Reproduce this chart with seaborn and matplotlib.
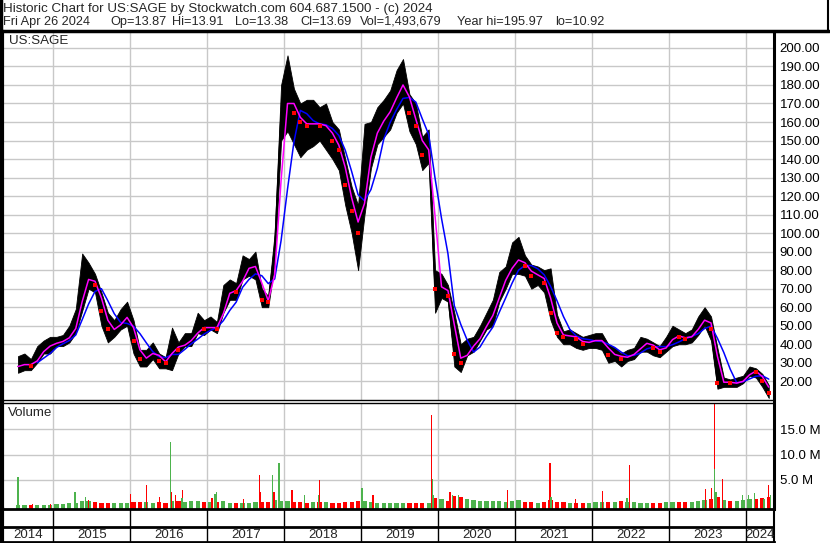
import matplotlib
matplotlib.use("Agg")
import matplotlib.pyplot as plt
from matplotlib.lines import Line2D
import numpy as np
import pandas as pd
import seaborn as sns

# monthly bars, Jul 2014 .. Apr 2024
months = pd.period_range("2014-07", "2024-04", freq="M")

price_low = [
    24.6, 26, 26, 30, 35, 35,
    39, 39, 41, 46, 58, 70, 68, 50, 41, 44, 48, 50,
    35, 28, 28, 32, 27, 27, 26, 35, 39, 39, 46, 45,
    48, 46, 57, 64, 64, 75, 77, 75, 60, 60, 84, 150,
    155, 148, 141, 145, 147, 150, 145, 140, 134, 115, 100, 80,
    110, 135, 148, 152, 156, 165, 170, 155, 148, 134, 138, 57,
    65, 63, 28, 25, 34, 36, 42, 48, 50, 63, 70, 78,
    78, 77, 70, 72, 68, 53, 44, 40, 40, 38, 37, 38,
    38, 37, 30, 31, 28, 31, 32, 36, 36, 34, 33, 36,
    39, 40, 40, 41, 45, 50, 42, 16, 17, 17, 17, 19,
    23, 22, 17, 11,
]
price_high = [
    33.6, 35, 32, 39, 42, 44,
    44, 45, 50, 59, 89, 84, 78, 68, 57, 53, 59, 63,
    53, 37, 37, 41, 35, 33, 49, 41, 46, 46, 57, 53,
    55, 52, 72, 75, 73, 88, 86, 90, 70, 66, 100, 180,
    196, 178, 170, 172, 172, 168, 170, 160, 156, 140, 125, 115,
    159, 160, 168, 172, 177, 188, 194, 175, 170, 152, 156, 80,
    78, 72, 57, 40, 43, 44, 50, 57, 64, 79, 82, 95,
    98, 88, 83, 82, 80, 81, 56, 47, 48, 46, 44, 45,
    46, 46, 40, 38, 35, 37, 38, 44, 43, 41, 39, 44,
    50, 48, 46, 48, 55, 60, 55, 38, 22, 21, 22, 23,
    28, 27, 24, 18,
]
price_close = [
    28, 30, 28, 34, 38, 40,
    41, 42, 45, 52, 74, 76, 72, 58, 48, 48, 53, 56,
    42, 32, 33, 37, 31, 30, 40, 37, 42, 42, 50, 48,
    50, 48, 65, 70, 68, 80, 82, 82, 64, 63, 92, 165,
    175, 165, 160, 158, 160, 158, 158, 150, 145, 126, 112, 100,
    132, 150, 158, 163, 168, 178, 182, 165, 158, 142, 148, 70,
    72, 66, 35, 30, 38, 40, 46, 53, 58, 72, 77, 85,
    86, 82, 77, 78, 73, 57, 46, 44, 45, 43, 40, 42,
    42, 42, 34, 35, 32, 34, 35, 40, 41, 38, 36, 40,
    45, 44, 43, 45, 51, 55, 48, 19, 20, 19, 19, 21,
    26, 25, 20, 13.69,
]
# typical daily volume per month, millions
volume_base = [
    0.1, 0.05, 0.05, 0.1, 0.05, 0.1,
    0.2, 0.3, 0.4, 0.5, 0.8, 0.9, 0.6, 0.5, 0.4, 0.4, 0.5, 0.4,
    0.6, 0.7, 0.6, 0.5, 0.6, 0.5, 0.9, 0.8, 0.7, 0.8, 0.9, 0.6,
    0.6, 0.7, 0.8, 0.5, 0.4, 0.5, 0.4, 0.6, 0.6, 0.7, 1.0, 0.9,
    0.8, 0.6, 0.6, 0.5, 0.6, 0.7, 0.6, 0.5, 0.5, 0.6, 0.7, 0.8,
    0.8, 0.6, 0.5, 0.5, 0.5, 0.5, 0.5, 0.4, 0.4, 0.4, 0.5, 1.5,
    1.2, 0.8, 1.8, 1.6, 1.3, 1.1, 0.9, 0.8, 0.9, 0.8, 0.7, 0.8,
    1.0, 0.7, 0.6, 0.5, 0.6, 1.0, 0.7, 0.6, 0.5, 0.5, 0.5, 0.5,
    0.6, 0.6, 0.7, 0.6, 0.8, 0.6, 0.6, 0.5, 0.5, 0.5, 0.5, 0.6,
    0.6, 0.6, 0.6, 0.6, 0.8, 1.0, 1.2, 1.6, 1.0, 0.9, 0.9, 1.0,
    1.3, 1.2, 1.4, 1.6,
]

# single heavy-volume days (decimal year, millions, up day?)
spike_dates = [
    2014.54, 2014.73, 2014.96, 2015.28, 2015.42, 2015.46, 2016.005, 2016.21,
    2016.38, 2016.52, 2016.535, 2016.59, 2016.68, 2016.67, 2017.06, 2017.12,
    2017.10, 2017.47, 2017.68, 2017.695, 2017.85, 2017.865, 2017.93, 2018.10,
    2018.26, 2018.44, 2018.46, 2019.01, 2019.15, 2019.91, 2019.925, 2019.94,
    2020.15, 2020.18, 2020.26, 2020.90, 2021.45, 2021.465, 2021.78, 2022.13,
    2022.48, 2022.45, 2023.47, 2023.55, 2023.59, 2023.59, 2023.605, 2023.69,
    2023.95, 2024.03, 2024.11, 2024.23, 2024.29, 2024.31,
]
spike_volume = [
    5.6, 0.3, 0.3, 2.7, 1.7, 1.0, 2.3, 4.0,
    1.6, 12.4, 2.7, 2.0, 3.0, 1.5, 1.5, 2.7,
    2.2, 1.2, 6.0, 2.6, 6.0, 2.7, 8.3, 3.1,
    2.0, 2.0, 5.0, 3.4, 2.0, 17.8, 5.2, 2.0,
    2.6, 2.0, 2.0, 3.0, 8.3, 1.7, 1.3, 2.9,
    7.9, 1.5, 3.2, 3.4, 21.0, 7.1, 2.6, 5.2,
    2.0, 2.0, 2.4, 1.3, 4.0, 2.0,
]
spike_up = [
    1, 0, 0, 1, 1, 0, 0, 0,
    0, 1, 0, 0, 0, 1, 0, 1,
    1, 0, 0, 0, 1, 0, 1, 0,
    1, 1, 0, 1, 0, 0, 1, 1,
    0, 1, 1, 0, 0, 1, 0, 0,
    0, 1, 0, 0, 0, 1, 1, 0,
    1, 1, 1, 1, 0, 1,
]

years = list(range(2014, 2025))
price_ticks = list(range(20, 201, 10))
volume_ticks = [5, 10, 15]

header_line1 = "Historic Chart for US:SAGE by Stockwatch.com 604.687.1500 - (c) 2024"
header_line2 = ["Fri Apr 26 2024", "Op=13.87", "Hi=13.91", "Lo=13.38",
                "Cl=13.69", "Vol=1,493,679", "Year hi=195.97", "lo=10.92"]
header_line2_x = [3, 110, 172, 235, 300, 360, 457, 555]

GREEN = "#4DB34D"
RED = "#FF0000"
GRID = "#C8C8C8"

sns.set_theme(style="white")
plt.rcParams["font.family"] = ["Liberation Sans", "DejaVu Sans"]
FS = 9.5
FS_HEAD = 9.6

W, H = 830, 543
fig = plt.figure(figsize=(W / 100, H / 100), dpi=100)


def box(x0, y0, x1, y1):
    return [x0 / W, 1 - y1 / H, (x1 - x0) / W, (y1 - y0) / H]


def px_to_year(x):
    return 2015 + (x - 53.3) / 77


x_left, x_right = px_to_year(2), px_to_year(774)

df = pd.DataFrame({
    "t": [p.year + (p.month - 0.5) / 12 for p in months],
    "low": price_low,
    "high": price_high,
    "close": price_close,
    "vol": volume_base,
})
df["ma_fast"] = df["close"].rolling(2, min_periods=1).mean()
df["ma_slow"] = df["close"].rolling(4, min_periods=4).mean()
df["up"] = df["close"] >= df["close"].shift(1).fillna(df["close"])

# ---- price panel
ax = fig.add_axes(box(2, 32, 774, 400))
ax.fill_between(df["t"], df["low"], df["high"], color="black", lw=0.6)
sns.lineplot(data=df, x="t", y="close", ax=ax, color="black", lw=1, legend=False)
sns.lineplot(data=df, x="t", y="ma_slow", ax=ax, color="#0000FF", lw=1.1, legend=False)
sns.lineplot(data=df, x="t", y="ma_fast", ax=ax, color="#FF00FF", lw=1.1, legend=False)
down = df[~df["up"]]
ax.scatter(down["t"], down["close"], marker="s", s=5, color=RED, lw=0, zorder=5)

ax.set_xlim(x_left, x_right)
ax.set_ylim(9.9, 208.6)
ax.set_xticks(years[1:])
ax.set_yticks(price_ticks)
ax.set_yticklabels([f"{v:.2f}" for v in price_ticks])
ax.yaxis.tick_right()
ax.tick_params(axis="y", length=0, pad=4, labelsize=FS, colors="black")
ax.tick_params(axis="x", length=0, labelbottom=False)
ax.grid(True, color=GRID, lw=1)
ax.set_axisbelow(True)
ax.set_xlabel("")
ax.set_ylabel("")
ax.spines["top"].set_visible(False)
ax.spines["left"].set_linewidth(3)
ax.spines["right"].set_linewidth(2.2)
ax.spines["bottom"].set_linewidth(1)
for s in ax.spines.values():
    s.set_color("black")

# ---- volume panel
axv = fig.add_axes(box(2, 402.5, 774, 509))
vbot = -0.69
axv.bar(df["t"], df["vol"] - vbot, bottom=vbot, width=0.055,
        color=[GREEN if u else RED for u in df["up"]], lw=0)
spikes = pd.DataFrame({"t": spike_dates, "v": spike_volume, "up": spike_up})
for flag, col in [(0, RED), (1, GREEN)]:
    sub = spikes[spikes["up"] == flag]
    axv.bar(sub["t"], sub["v"] - vbot, bottom=vbot, width=0.017, color=col, lw=0)
axv.set_xlim(x_left, x_right)
axv.set_ylim(vbot, 20.2)
axv.set_xticks(years[1:])
axv.set_yticks(volume_ticks)
axv.set_yticklabels([f"{v:.1f} M" for v in volume_ticks])
axv.yaxis.tick_right()
axv.tick_params(axis="y", length=0, pad=4, labelsize=FS, colors="black")
axv.tick_params(axis="x", length=0, labelbottom=False)
axv.grid(True, color=GRID, lw=1)
axv.set_axisbelow(True)
axv.spines["top"].set_linewidth(1)
axv.spines["left"].set_linewidth(3)
axv.spines["right"].set_linewidth(2.2)
axv.spines["bottom"].set_visible(False)
for s in axv.spines.values():
    s.set_color("black")

# ---- year strip
axy = fig.add_axes(box(2, 509, 774, 542))
axy.set_xlim(x_left, x_right)
axy.set_ylim(0, 1)
axy.set_xticks([])
axy.set_yticks([])
for y in years[1:]:
    axy.axvline(y, color="black", lw=1)
axy.axhline((542 - 527) / 33, color="black", lw=2)
edges = [x_left] + years[1:] + [x_right]
for i, y in enumerate(years):
    axy.text((edges[i] + edges[i + 1]) / 2, (542 - 534.5) / 33, str(y),
             ha="center", va="center", fontsize=FS)
for name, lw in [("top", 2), ("bottom", 2), ("left", 3), ("right", 1.5)]:
    axy.spines[name].set_linewidth(lw)
    axy.spines[name].set_color("black")

# ---- header
fig.add_artist(Line2D([0, 829 / W], [1 - 31 / H, 1 - 31 / H], color="black", lw=2.5))
fig.add_artist(Line2D([828 / W, 828 / W], [1 - 31 / H, 1], color="black", lw=1.5))
fig.add_artist(Line2D([1 / W, 1 / W], [0, 1], color="black", lw=2.5))
fig.text(3 / W, 1 - 9 / H, header_line1, va="center", fontsize=FS_HEAD)
for txt, xp in zip(header_line2, header_line2_x):
    fig.text(xp / W, 1 - 22 / H, txt, va="center", fontsize=9.2)
fig.text(9 / W, 1 - 41 / H, "US:SAGE", va="center", fontsize=FS_HEAD)
fig.text(8 / W, 1 - 413 / H, "Volume", va="center", fontsize=FS_HEAD)

fig.savefig("out.png", dpi=100)
